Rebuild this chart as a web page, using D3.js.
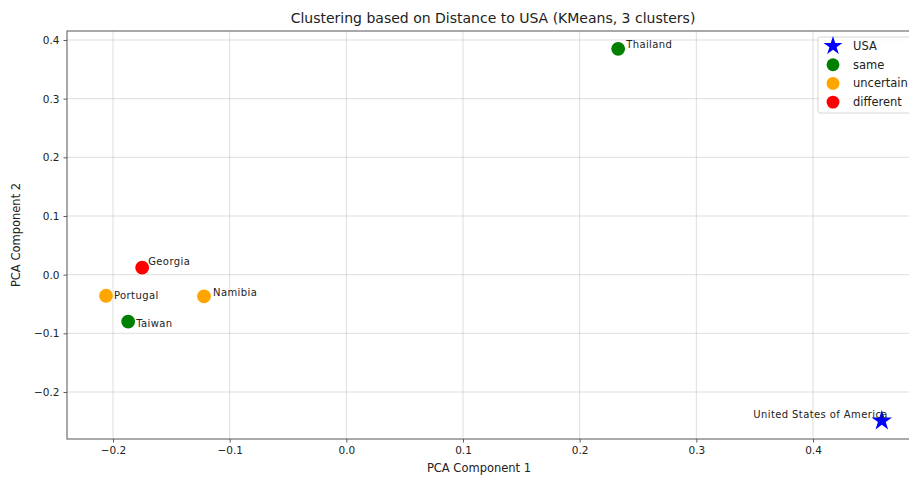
<!DOCTYPE html>
<html>
<head>
<meta charset="utf-8">
<script src="https://cdn.jsdelivr.net/npm/d3@7"></script>
<style>
  body { margin: 0; background: #fff; }
  svg { font-family: "DejaVu Sans", sans-serif; }
</style>
</head>
<body>
<div class="main"></div>
<script>
// data
var countries = ["United States of America", "Thailand", "Georgia", "Portugal", "Namibia", "Taiwan"];
var pc1 = [0.459, 0.233, -0.175, -0.206, -0.122, -0.187];
var pc2 = [-0.249, 0.385, 0.012, -0.036, -0.037, -0.080];
var groups = ["USA", "same", "different", "uncertain", "uncertain", "same"];
var legendNames = ["USA", "same", "uncertain", "different"];
var legendColors = ["blue", "green", "orange", "red"];
var xTicks = [-0.2, -0.1, 0.0, 0.1, 0.2, 0.3, 0.4];
var yTicks = [-0.2, -0.1, 0.0, 0.1, 0.2, 0.3, 0.4];
// label nudges in px (layout only)
var labelDx = [6, 8, 6, 8, 9, 8];
var labelDy = [-3, -1, -3, 3, 0, 5];

var width = 909;
var height = 477;
var plotLeft = 67, plotRight = 919, plotTop = 31, plotBottom = 439;

var svg = d3.select(".main")
        .append("svg")
            .attr("width", width)
            .attr("height", height);

var xScale = d3.scaleLinear()
    .domain([-0.2, 0.4])
    .range([113, 813]);
var yScale = d3.scaleLinear()
    .domain([-0.2, 0.4])
    .range([392, 40]);

var color = d3.scaleOrdinal().domain(legendNames).range(legendColors);

// grid
svg.append("g").selectAll("line")
    .data(xTicks).enter().append("line")
    .attr("x1", d => xScale(d)).attr("x2", d => xScale(d))
    .attr("y1", plotTop).attr("y2", plotBottom)
    .attr("stroke", "#b0b0b0").attr("stroke-opacity", 0.55).attr("stroke-width", 0.8);
svg.append("g").selectAll("line")
    .data(yTicks).enter().append("line")
    .attr("x1", plotLeft).attr("x2", plotRight)
    .attr("y1", d => yScale(d)).attr("y2", d => yScale(d))
    .attr("stroke", "#b0b0b0").attr("stroke-opacity", 0.55).attr("stroke-width", 0.8);

// axes
var xAxis = d3.axisBottom(xScale).tickValues(xTicks).tickSize(3.5).tickPadding(4)
    .tickFormat(d => d3.format(".1f")(d).replace("-", "\u2212"));
var yAxis = d3.axisLeft(yScale).tickValues(yTicks).tickSize(3.5).tickPadding(4)
    .tickFormat(d => d3.format(".1f")(d).replace("-", "\u2212"));

var gx = svg.append("g").attr("transform", "translate(0," + plotBottom + ")").call(xAxis);
var gy = svg.append("g").attr("transform", "translate(" + plotLeft + ",0)").call(yAxis);
[gx, gy].forEach(g => {
    g.select(".domain").remove();
    g.selectAll("line").attr("stroke", "#333").attr("stroke-width", 0.8);
    g.selectAll("text").attr("fill", "#222").style("font-size", "10.5px").style("font-family", "DejaVu Sans");
});

// spines
svg.append("rect")
    .attr("x", plotLeft).attr("y", plotTop)
    .attr("width", plotRight - plotLeft).attr("height", plotBottom - plotTop)
    .attr("fill", "none").attr("stroke", "#555").attr("stroke-width", 1);

// points
var points = countries.map((c, i) => ({name: c, x: pc1[i], y: pc2[i], g: groups[i], dx: labelDx[i], dy: labelDy[i]}));
var star = d3.symbol().type(d3.symbolStar).size(130);

svg.append("g").selectAll("path")
    .data(points).enter().append("path")
    .attr("transform", d => "translate(" + xScale(d.x) + "," + yScale(d.y) + ")")
    .attr("d", d => d.g === "USA" ? star() : d3.symbol().type(d3.symbolCircle).size(150)())
    .attr("fill", d => color(d.g));

svg.append("g").selectAll("text")
    .data(points).enter().append("text")
    .attr("x", d => xScale(d.x) + d.dx)
    .attr("y", d => yScale(d.y) + d.dy)
    .attr("text-anchor", d => d.g === "USA" ? "end" : "start")
    .style("font-size", "10px")
    .style("letter-spacing", "0.4px")
    .attr("fill", "#222")
    .text(d => d.name);

// legend
var lg = svg.append("g").attr("transform", "translate(818,37)");
lg.append("rect")
    .attr("width", 110).attr("height", 76).attr("rx", 2)
    .attr("fill", "#fff").attr("fill-opacity", 0.8)
    .attr("stroke", "#ccc").attr("stroke-width", 0.8);
legendNames.forEach((n, i) => {
    var cy = 9 + i * 18.7;
    lg.append("path")
        .attr("transform", "translate(15," + cy + ")")
        .attr("d", i === 0 ? d3.symbol().type(d3.symbolStar).size(110)() : d3.symbol().type(d3.symbolCircle).size(130)())
        .attr("fill", legendColors[i]);
    lg.append("text")
        .attr("x", 35).attr("y", cy + 4)
        .style("font-size", "11.5px").attr("fill", "#222")
        .text(n);
});

// titles
svg.append("text")
    .attr("x", 493).attr("y", 23)
    .attr("text-anchor", "middle")
    .style("font-size", "14px").attr("fill", "#222")
    .text("Clustering based on Distance to USA (KMeans, 3 clusters)");
svg.append("text")
    .attr("x", 479).attr("y", 472)
    .attr("text-anchor", "middle")
    .style("font-size", "11.5px").attr("fill", "#222")
    .text("PCA Component 1");
svg.append("text")
    .attr("transform", "translate(20,235) rotate(-90)")
    .attr("text-anchor", "middle")
    .style("font-size", "11.5px").attr("fill", "#222")
    .text("PCA Component 2");
</script>
</body>
</html>
